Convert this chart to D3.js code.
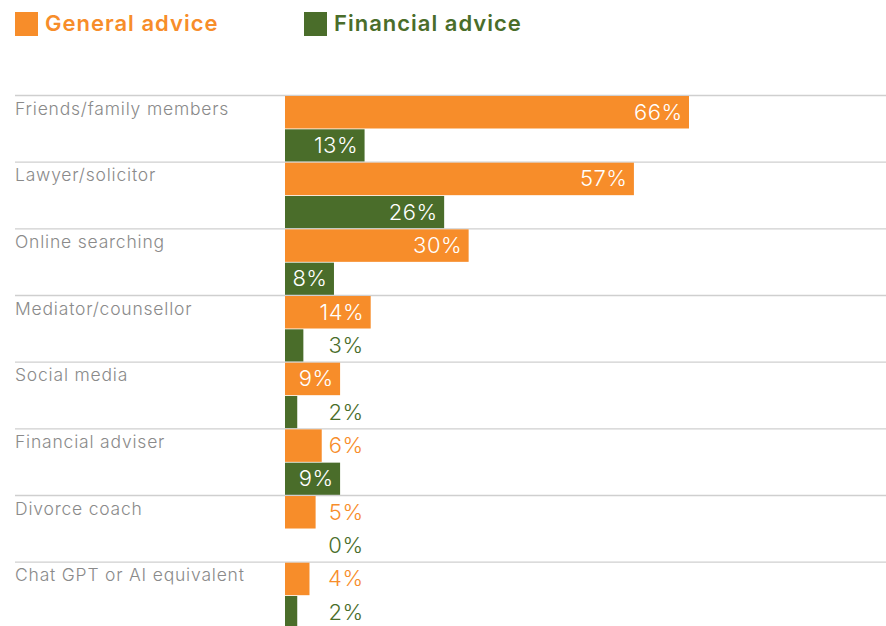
<!DOCTYPE html>
<html><head><meta charset="utf-8">
<script src="https://cdn.jsdelivr.net/npm/d3@7"></script>
<style>body{margin:0;background:#fff;}svg{display:block;}</style>
</head><body><div id="chart"></div>
<script>
const categories = ["Friends/family members","Lawyer/solicitor","Online searching","Mediator/counsellor","Social media","Financial adviser","Divorce coach","Chat GPT or AI equivalent"];
const generalAdvice = [66,57,30,14,9,6,5,4];
const financialAdvice = [13,26,8,3,2,9,0,2];
const seriesNames = ["General advice","Financial advice"];
const colors = ["#F78D2A","#4A6D2A"];

const W = 886, H = 626;
const svg = d3.select("#chart").append("svg").attr("width",W).attr("height",H);
const font = "Inter, 'Open Sans', sans-serif";

// legend
const legX = [15, 304];
seriesNames.forEach((n,i)=>{
  svg.append("rect").attr("x",legX[i]).attr("y",12).attr("width",23).attr("height",24).attr("fill",colors[i]);
  svg.append("text").attr("x",legX[i]+30).attr("y",31).attr("fill",colors[i])
    .attr("font-family",font).attr("font-weight",600).attr("font-size",22).attr("letter-spacing",1).text(n);
});

const x = d3.scaleLinear().domain([0,66]).range([285,689]);
const y = d3.scaleBand().domain(categories).range([95.5,95.5+66.67*8]);

const g = svg.append("g");
categories.forEach((c,i)=>{
  const y0 = y(c);
  g.append("line").attr("x1",15).attr("x2",W).attr("y1",y0).attr("y2",y0).attr("stroke","#cfcfcf").attr("stroke-width",1.3);
  g.append("text").attr("x",15).attr("y",y0+19.3).attr("fill","#8a8a8a").attr("font-family",font).attr("font-weight",300)
    .attr("font-size",17.5).attr("letter-spacing",0.8).text(c);
  const vals = [generalAdvice[i], financialAdvice[i]];
  vals.forEach((v,j)=>{
    const by = y0 + 0.5 + j*33.3;
    const bh = 32.5;
    g.append("rect").attr("x",x(0)).attr("y",by).attr("width",x(v)-x(0)).attr("height",bh).attr("fill",colors[j]);
    const inside = (x(v)-x(0)) > 45;
    g.append("text").attr("x", inside ? x(v)-6.5 : 363.5).attr("y",by+bh/2+7.5)
      .attr("text-anchor","end").attr("fill", inside ? "#fff" : colors[j])
      .attr("font-family",font).attr("font-weight",300).attr("font-size",22).attr("letter-spacing",0.5).text(v+"%");
  });
});
</script></body></html>
